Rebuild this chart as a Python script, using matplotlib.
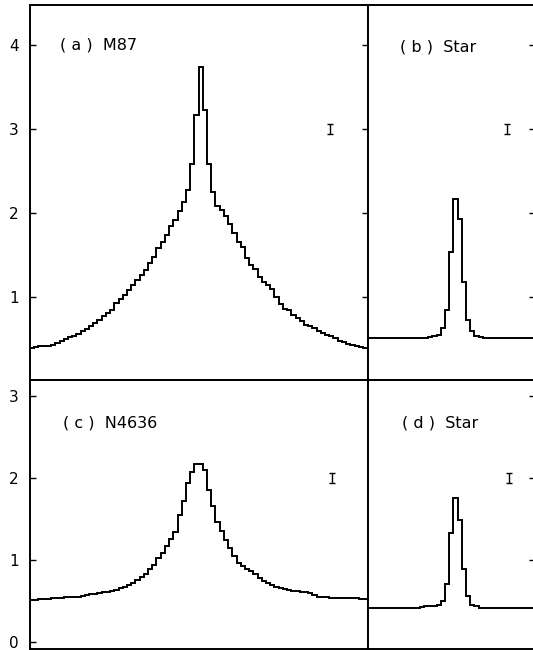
import matplotlib
matplotlib.use("Agg")
import matplotlib.pyplot as plt
import numpy as np

# radial profiles, one value per pixel bin, bin 0 = centre
m87 = [0.39, 0.40, 0.41, 0.41, 0.42, 0.43, 0.45, 0.47, 0.50, 0.52,
       0.54, 0.56, 0.59, 0.62, 0.65, 0.69, 0.73, 0.77, 0.81, 0.85,
       0.93, 0.97, 1.02, 1.08, 1.14, 1.20, 1.26, 1.32, 1.40, 1.48,
       1.58, 1.66, 1.74, 1.84, 1.92, 2.02, 2.13, 2.27, 2.58, 3.17,
       3.74,
       3.23, 2.59, 2.25, 2.09, 2.04, 1.96, 1.87, 1.76, 1.65, 1.60,
       1.46, 1.38, 1.33, 1.24, 1.18, 1.14, 1.10, 1.00, 0.92, 0.86,
       0.84, 0.78, 0.75, 0.71, 0.67, 0.65, 0.63, 0.60, 0.57, 0.55,
       0.53, 0.51, 0.47, 0.46, 0.44, 0.43, 0.41, 0.40, 0.39, 0.39]

n4636 = [0.52, 0.52, 0.53, 0.53, 0.53, 0.54, 0.54, 0.54, 0.55, 0.55,
         0.56, 0.56, 0.57, 0.58, 0.59, 0.59, 0.60, 0.61, 0.62, 0.63,
         0.64, 0.66, 0.68, 0.70, 0.73, 0.76, 0.80, 0.84, 0.89, 0.95,
         1.03, 1.09, 1.17, 1.26, 1.35, 1.55, 1.72, 1.94, 2.08, 2.17,
         2.17,
         2.10, 1.86, 1.66, 1.47, 1.36, 1.25, 1.15, 1.05, 0.97, 0.93,
         0.90, 0.87, 0.83, 0.78, 0.75, 0.72, 0.70, 0.67, 0.66, 0.65,
         0.64, 0.63, 0.63, 0.62, 0.61, 0.60, 0.58, 0.56, 0.55, 0.55,
         0.54, 0.54, 0.54, 0.54, 0.54, 0.54, 0.54, 0.53, 0.53, 0.53]

# stars, bins -21 .. 19
star_b = [0.51, 0.51, 0.51, 0.51, 0.51, 0.51, 0.51, 0.51, 0.51, 0.51,
          0.51, 0.51, 0.51, 0.51, 0.51, 0.52, 0.53, 0.55, 0.63, 0.85,
          1.53, 2.17, 1.93, 1.18, 0.73, 0.59, 0.54, 0.52, 0.51, 0.51,
          0.51, 0.51, 0.51, 0.51, 0.51, 0.51, 0.51, 0.51, 0.51, 0.51,
          0.51]

star_d = [0.42, 0.42, 0.42, 0.42, 0.42, 0.42, 0.42, 0.42, 0.42, 0.42,
          0.42, 0.42, 0.42, 0.43, 0.44, 0.44, 0.45, 0.46, 0.50, 0.71,
          1.33, 1.76, 1.49, 0.89, 0.57, 0.46, 0.44, 0.42, 0.42, 0.42,
          0.42, 0.42, 0.42, 0.42, 0.42, 0.42, 0.42, 0.42, 0.42, 0.42,
          0.42]

labels = ["( a )  M87", "( b )  Star", "( c )  N4636", "( d )  Star"]
# error bar (x bin, y, half length) for each panel
err_a = (30.8, 3.0, 0.06)
err_b = (12.3, 3.0, 0.06)
err_c = (31.1, 2.0, 0.06)
err_d = (12.7, 2.0, 0.06)

edges_gal = np.arange(-40.5, 41.0, 1.0)
edges_star = np.arange(-21.5, 20.0, 1.0)

plt.rcParams['font.family'] = 'DejaVu Sans'
fig = plt.figure(figsize=(5.33, 6.5), dpi=100)

W, H = 533.0, 650.0
def box(x0, x1, y0, y1):
    # pixel box (top-left origin) -> figure fraction
    return [x0 / W, 1 - y1 / H, (x1 - x0) / W, (y1 - y0) / H]

ax_a = fig.add_axes(box(30, 368, 5, 380))
ax_b = fig.add_axes(box(368, 535, 5, 380))
ax_c = fig.add_axes(box(30, 368, 380, 649))
ax_d = fig.add_axes(box(368, 535, 380, 649))

panels = [
    (ax_a, m87, edges_gal, (-40.5, 39.7), (0.01, 4.48), err_a, labels[0], (0.089, 0.893)),
    (ax_b, star_b, edges_star, (-20.83, 18.93), (0.01, 4.48), err_b, labels[1], (0.19, 0.888)),
    (ax_c, n4636, edges_gal, (-40.5, 39.7), (-0.08, 3.2), err_c, labels[2], (0.098, 0.84)),
    (ax_d, star_d, edges_star, (-20.83, 18.93), (-0.08, 3.2), err_d, labels[3], (0.204, 0.84)),
]

for ax, vals, edges, xl, yl, err, lab, pos in panels:
    ax.stairs(vals, edges, baseline=None, color='black', linewidth=1.4)
    ax.errorbar([err[0]], [err[1]], yerr=[err[2]], fmt='none', ecolor='black',
                elinewidth=1.0, capsize=2.5, capthick=1.0)
    ax.set_xlim(*xl)
    ax.set_ylim(*yl)
    ax.set_xticks([])
    ax.text(pos[0], pos[1], lab, transform=ax.transAxes, fontsize=11.5,
            ha='left', va='center')
    for s in ax.spines.values():
        s.set_linewidth(1.4)
    ax.tick_params(axis='y', direction='in', length=4, width=1.0,
                   labelsize=11, pad=8)

ax_a.set_yticks([1, 2, 3, 4])
ax_a.tick_params(axis='y', left=True, right=True)
ax_c.set_yticks([0, 1, 2, 3])
ax_c.tick_params(axis='y', left=True, right=False)
ax_b.set_yticks([1, 2, 3, 4])
ax_b.tick_params(axis='y', left=False, right=True, labelleft=False)
ax_d.set_yticks([1, 2, 3])
ax_d.tick_params(axis='y', left=False, right=True, labelleft=False)

fig.savefig("out.png", dpi=100)
